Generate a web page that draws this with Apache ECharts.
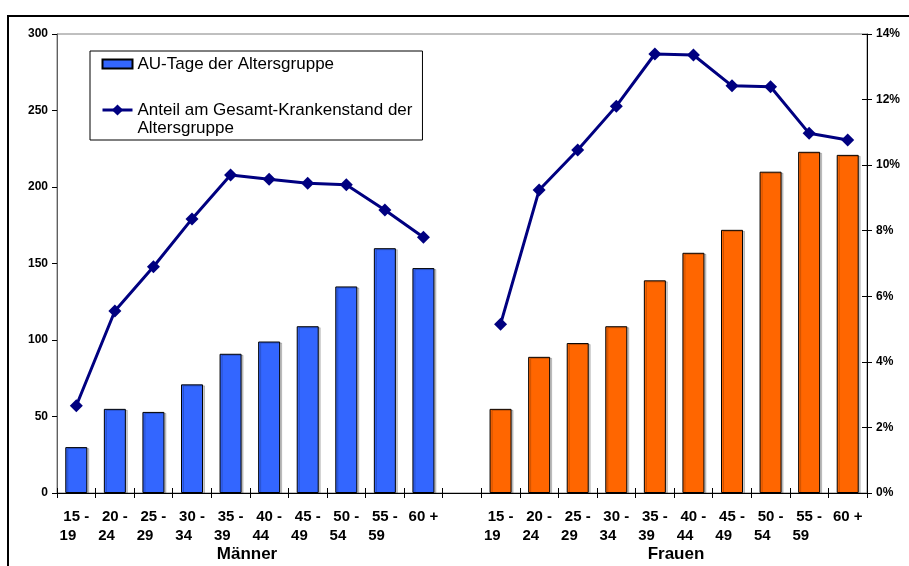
<!DOCTYPE html>
<html lang="de" style="height: 100%">
<head>
  <meta charset="utf-8">
</head>
<body style="height: 100%; margin: 0; background: #fff">
  <div id="container" style="width: 909px; height: 566px"></div>

  <script type="text/javascript" src="https://cdn.jsdelivr.net/npm/echarts@6/dist/echarts.min.js"></script>

  <script type="text/javascript">
    var dom = document.getElementById('container');
    var myChart = echarts.init(dom, null, { renderer: 'canvas' });

    // Altersgruppen (Männer, Lücke, Frauen)
    var ageGroups = ['15 -\n19', '20 -\n24', '25 -\n29', '30 -\n34', '35 -\n39',
                     '40 -\n44', '45 -\n49', '50 -\n54', '55 -\n59', '60 +'];
    // AU-Tage der Altersgruppe
    var auTageMaenner = [30, 55, 53, 71, 91, 99, 109, 135, 160, 147];
    var auTageFrauen = [55, 89, 98, 109, 139, 157, 172, 210, 223, 221];
    // Anteil am Gesamt-Krankenstand der Altersgruppe (%)
    var anteilMaenner = [2.66, 5.55, 6.9, 8.36, 9.7, 9.57, 9.45, 9.4, 8.63, 7.8];
    var anteilFrauen = [5.15, 9.24, 10.46, 11.8, 13.39, 13.36, 12.42, 12.39, 10.97, 10.77];
    // Achsen
    var leftTicks = { min: 0, max: 300, interval: 50 };
    var rightTicks = { min: 0, max: 14, interval: 2 };

    var blue = '#3366FF';
    var orange = '#FF6600';
    var navy = '#000080';
    var font = 'Liberation Sans, Arial, sans-serif';

    var barName = 'AU-Tage der Altersgruppe';
    var lineName = 'Anteil am Gesamt-Krankenstand der\nAltersgruppe';

    var categories = ageGroups.concat(['']).concat(ageGroups);
    var barData = auTageMaenner.slice()
      .concat([null])
      .concat(auTageFrauen.map(function (v) {
        return { value: v, itemStyle: { color: orange } };
      }));
    var lineData = anteilMaenner.concat([null]).concat(anteilFrauen);

    var option = {
      animation: false,
      textStyle: { fontFamily: font },
      grid: {
        left: 57, right: 42, top: 34, bottom: 73,
        show: true, borderColor: '#808080', borderWidth: 1
      },
      legend: {
        orient: 'vertical',
        left: 90,
        top: 51,
        padding: [4, 10, 3, 11],
        itemGap: 10,
        itemWidth: 30,
        itemHeight: 14,
        borderColor: '#000',
        borderWidth: 1,
        textStyle: { fontSize: 17, color: '#000', lineHeight: 18 },
        formatter: function (name) {
          return name === lineName ? '\n' + name : name;
        },
        data: [
          { name: barName, icon: 'path://M0,0L0,0M0,2.5L30,2.5L30,11.5L0,11.5ZM30,14L30,14' },
          { name: lineName, lineStyle: { width: 3 } }
        ]
      },
      xAxis: [
        {
          type: 'category',
          data: categories,
          axisLine: { lineStyle: { color: '#000', width: 1 } },
          axisTick: { show: true, length: 5, lineStyle: { color: '#000' } },
          axisLabel: {
            interval: 0, margin: 14, color: '#000',
            fontWeight: 'bold', fontSize: 15, lineHeight: 19,
            formatter: function (v) {
              var p = v.split('\n');
              return p.length > 1 ? p[0] + '\n' + p[1] + '    ' : v;
            }
          }
        },
        {
          // nur für nach innen zeigende Teilstriche
          type: 'category',
          data: categories,
          position: 'bottom',
          axisLine: { show: false },
          axisTick: { show: true, inside: true, length: 5, lineStyle: { color: '#000' } },
          axisLabel: { show: false }
        }
      ],
      yAxis: [
        {
          type: 'value', min: leftTicks.min, max: leftTicks.max, interval: leftTicks.interval,
          splitLine: { show: false },
          axisLine: { show: true, lineStyle: { color: '#606060' } },
          axisTick: { show: true, length: 5, lineStyle: { color: '#000' } },
          axisLabel: { color: '#000', fontWeight: 'bold', fontSize: 12, margin: 9 }
        },
        {
          type: 'value', min: rightTicks.min, max: rightTicks.max, interval: rightTicks.interval,
          splitLine: { show: false },
          axisLine: { show: true, lineStyle: { color: '#000' } },
          axisTick: { show: true, length: 5, lineStyle: { color: '#000' } },
          axisLabel: { color: '#000', fontWeight: 'bold', fontSize: 12, margin: 9, formatter: '{value}%' }
        },
        {
          type: 'value', position: 'right',
          min: rightTicks.min, max: rightTicks.max, interval: rightTicks.interval,
          splitLine: { show: false },
          axisLine: { show: false },
          axisTick: { show: true, inside: true, length: 5, lineStyle: { color: '#000' } },
          axisLabel: { show: false }
        }
      ],
      series: [
        {
          name: barName,
          type: 'bar',
          yAxisIndex: 0,
          barWidth: 22,
          data: barData,
          itemStyle: {
            color: blue, borderColor: '#000', borderWidth: 1,
            shadowColor: 'rgba(0,0,0,0.2)', shadowOffsetX: 2, shadowOffsetY: 1
          }
        },
        {
          name: lineName,
          type: 'line',
          yAxisIndex: 1,
          data: lineData,
          connectNulls: false,
          symbol: 'diamond',
          symbolSize: 13,
          lineStyle: { color: navy, width: 3 },
          itemStyle: { color: navy }
        }
      ],
      graphic: [
        {
          type: 'rect', silent: true,
          shape: { x: 8, y: 16, width: 2000, height: 2000 },
          style: { fill: null, stroke: '#000', lineWidth: 2 }
        },
        {
          type: 'text', silent: true,
          style: { x: 247, y: 554, text: 'Männer', align: 'center', verticalAlign: 'middle',
                   font: 'bold 17px ' + font, fill: '#000' }
        },
        {
          type: 'text', silent: true,
          style: { x: 676, y: 554, text: 'Frauen', align: 'center', verticalAlign: 'middle',
                   font: 'bold 17px ' + font, fill: '#000' }
        }
      ]
    };

    myChart.setOption(option);
    window.addEventListener('resize', myChart.resize);
  </script>
</body>
</html>
